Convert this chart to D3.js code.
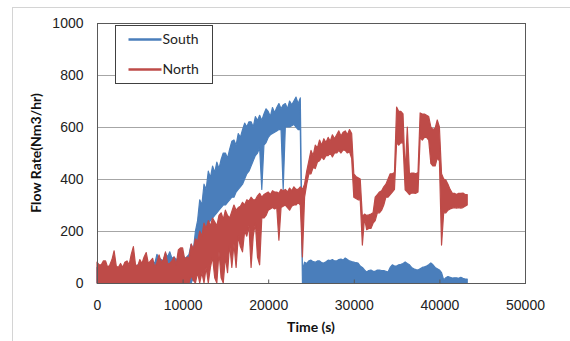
<!DOCTYPE html>
<html>
<head>
<meta charset="utf-8">
<script src="https://cdn.jsdelivr.net/npm/d3@7"></script>
<style>
  body { margin: 0; background: #fff; }
  svg { display: block; font-family: Lato, "Open Sans", sans-serif; }
  .tick-label { font-size: 14px; fill: #222; }
  .title { font-size: 14px; font-weight: bold; fill: #111; }
  .legend-text { font-size: 14px; fill: #222; }
</style>
</head>
<body>
<div id="chart"></div>
<script>
var sampleStep = 250;
var southHigh = [
  60, 55, 55, 50,   65, 60, 60, 55,   70, 60, 55, 60,   60, 65, 70, 60,
  75, 65, 60, 70,   70, 75, 80, 70,   65, 80, 85, 75,   110, 95, 90, 85,
  115, 100, 120, 95, 100, 90, 95, 85, 110, 95, 100, 110, 150, 125, 200, 240,
  320, 300, 380, 360, 430, 405, 450, 425, 465, 440, 475, 500, 500, 480, 515, 545,
  550, 530, 575, 560, 590, 615, 600, 620, 620, 600, 640, 625, 645, 625, 650, 670,
  660, 640, 675, 655, 675, 690, 670, 685, 690, 670, 700, 685, 700, 715, 690, 712,
  50, 80, 75, 85,   88, 82, 80, 85,   85, 78, 77, 82,   88, 86, 90, 85,
  85, 90, 92, 88,   96, 90, 85, 82,   80, 78, 77, 65,   60, 50, 42, 48,
  50, 45, 45, 50,   50, 48, 48, 45,   42, 60, 70, 65,   65, 70, 72, 75,
  81, 75, 70, 60,   55, 52, 50, 55,   60, 62, 65, 70,   77, 70, 60, 55,
  50, 40, 12, 20,   25, 22, 19, 20,   20, 18, 22, 18,   15, 15
];
var southLow = [
  0, 0, 0, 0,   0, 0, 0, 0,   0, 0, 0, 0,   0, 0, 0, 0,
  0, 0, 0, 0,   0, 0, 0, 0,   0, 0, 0, 0,   0, 0, 0, 0,
  0, 0, 0, 0,   0, 0, 0, 0,   0, 0, 0, 0,   0, 20, 60, 90,
  150, 180, 200, 210, 230, 240, 250, 260, 270, 280, 290, 300, 300, 310, 320, 330,
  330, 350, 360, 370, 380, 400, 420, 430, 450, 470, 490, 500, 520, 360, 530, 540,
  560, 570, 575, 580, 585, 590, 590, 360, 600, 600, 600, 605, 610, 600, 590, 590,
  0, 0, 0, 0,   0, 0, 0, 0,   0, 0, 0, 0,   0, 0, 0, 0,
  0, 0, 0, 0,   0, 0, 0, 0,   0, 0, 0, 0,   0, 0, 0, 0,
  0, 0, 0, 0,   0, 0, 0, 0,   0, 0, 0, 0,   0, 0, 0, 0,
  0, 0, 0, 0,   0, 0, 0, 0,   0, 0, 0, 0,   0, 0, 0, 0,
  0, 0, 0, 0,   0, 0, 0, 0,   0, 0, 0, 0,   0, 0
];
var northHigh = [
  80, 70, 70, 85,   85, 60, 70, 90,   124, 65, 60, 75,  60, 80, 85, 70,
  110, 140, 70, 65, 90, 75, 100, 117, 75, 85, 95, 60,   80, 108, 80, 90,
  120, 75, 75, 85,  100, 70, 127, 135, 135, 90, 100, 95, 150, 130, 170, 160,
  200, 180, 230, 210, 240, 220, 250, 235, 220, 260, 270, 245, 280, 260, 250, 275,
  300, 280, 290, 295, 310, 300, 320, 315, 330, 320, 320, 335, 345, 330, 340, 345,
  350, 340, 355, 350, 350, 345, 360, 355, 360, 350, 365, 355, 370, 360, 360, 370,
  360, 380, 430, 470, 510, 490, 530, 520, 550, 530, 555, 540, 560, 545, 570, 555,
  570, 585, 565, 580, 585, 570, 590, 575, 420, 410, 405, 400, 255, 265, 260, 262,
  265, 270, 330, 340, 350, 355, 370, 380, 400, 420, 420, 425, 677, 660, 660, 650,
  420, 600, 420, 423, 423, 420, 425, 654, 650, 650, 645, 640, 600, 590, 595, 627,
  600, 420, 400, 396, 380, 360, 346, 345, 340, 345, 345, 346, 340, 340
];
var northLow = [
  0, 0, 0, 0,   0, 0, 0, 0,   0, 0, 0, 0,   0, 0, 0, 0,
  0, 0, 0, 0,   0, 0, 0, 0,   0, 0, 0, 0,   0, 0, 0, 0,
  0, 0, 0, 0,   0, 0, 0, 0,   0, 0, 0, 0,   30, 10, 0, 40,
  0, 40, 0, 60,      0, 60, 100, 20,     0, 120, 20, 0,      100, 40, 150, 60,
  150, 60, 180, 140, 120, 200, 180, 220, 60, 180, 230, 100,  70, 250, 250, 260,
  280, 285, 290, 285, 290, 165, 290, 295, 300, 290, 280, 295, 300, 300, 310, 300,
  100, 330, 380, 420, 420, 445, 440, 465, 470, 485, 475, 490, 490, 500, 485, 500,
  500, 510, 500, 512, 510, 500, 505, 480, 330, 325, 320, 320, 146, 250, 205, 210,
  210, 230, 240, 270, 270, 280, 300, 330, 330, 340, 350, 360, 540, 530, 540, 538,
  358, 350, 340, 346, 346, 345, 350, 560, 550, 560, 560, 550, 460, 450, 450, 480,
  470, 146, 270, 270, 280, 285, 288, 290, 288, 290, 288, 290, 295, 300
];
var series = [
  { name: "South", high: southHigh, low: southLow, color: "#4a7ebb" },
  { name: "North", high: northHigh, low: northLow, color: "#be4b48" }
];
var xTicks = [0, 10000, 20000, 30000, 40000, 50000];
var yTicks = [0, 200, 400, 600, 800, 1000];

var width = 570, height = 341;
var plot = { left: 97, right: 525, top: 23, bottom: 283 };

var svg = d3.select("#chart").append("svg")
  .attr("width", width).attr("height", height);

// outer chart frame
svg.append("rect").attr("x", 12.5).attr("y", 7.5)
  .attr("width", 600).attr("height", 400)
  .attr("fill", "none").attr("stroke", "#d4d4d4");

var x = d3.scaleLinear().domain([0, 50000]).range([plot.left, plot.right]);
var y = d3.scaleLinear().domain([0, 1000]).range([plot.bottom, plot.top]);

// gridlines
svg.append("g").selectAll("line").data(yTicks.slice(1, -1)).join("line")
  .attr("x1", plot.left).attr("x2", plot.right)
  .attr("y1", d => Math.round(y(d)) + 0.5).attr("y2", d => Math.round(y(d)) + 0.5)
  .attr("stroke", "#a6a6a6");

// series: band between the min and max of each slot
var band = d3.area()
  .x(d => x(d.t))
  .y0(d => y(d.lo))
  .y1(d => y(d.hi));

function rows(s) {
  return s.high.map((h, i) => ({ t: i * sampleStep, hi: h, lo: s.low[i] }));
}

svg.append("g").selectAll("path").data(series).join("path")
  .attr("d", d => band(rows(d)))
  .attr("fill", d => d.color)
  .attr("stroke", d => d.color)
  .attr("stroke-width", 1.2)
  .attr("stroke-linejoin", "round");

// plot border
svg.append("rect")
  .attr("x", plot.left + 0.5).attr("y", plot.top + 0.5)
  .attr("width", plot.right - plot.left).attr("height", plot.bottom - plot.top)
  .attr("fill", "none").attr("stroke", "#595959");

// x axis
var xAxis = svg.append("g")
  .attr("transform", "translate(0," + (plot.bottom + 0.5) + ")")
  .call(d3.axisBottom(x).tickValues(xTicks).tickFormat(d3.format("d")).tickSizeInner(-4).tickSizeOuter(0));
xAxis.select(".domain").remove();
xAxis.selectAll(".tick line").attr("stroke", "#595959");
xAxis.selectAll(".tick text").attr("class", "tick-label").attr("dy", null).attr("y", 26)
  .attr("font-family", null).attr("font-size", null);

// y axis
var yAxis = svg.append("g")
  .attr("transform", "translate(" + (plot.left + 0.5) + ",0)")
  .call(d3.axisLeft(y).tickValues(yTicks).tickFormat(d3.format("d")).tickSize(0).tickPadding(14));
yAxis.select(".domain").remove();
yAxis.selectAll(".tick text").attr("class", "tick-label")
  .attr("font-family", null).attr("font-size", null);

// axis titles
svg.append("text").attr("class", "title")
  .attr("x", (plot.left + plot.right) / 2).attr("y", 332)
  .attr("text-anchor", "middle").text("Time (s)");
svg.append("text").attr("class", "title")
  .attr("transform", "translate(41," + (plot.top + plot.bottom) / 2 + ") rotate(-90)")
  .attr("text-anchor", "middle").text("Flow Rate(Nm3/hr)");

// legend
var legend = svg.append("g").attr("transform", "translate(115.5,25.5)");
legend.append("rect").attr("width", 97).attr("height", 58)
  .attr("fill", "#fff").attr("stroke", "#404040");
var item = legend.selectAll(".item").data(series).join("g")
  .attr("transform", (d, i) => "translate(0," + (14 + i * 30) + ")");
item.append("line").attr("x1", 13).attr("x2", 46)
  .attr("stroke", d => d.color).attr("stroke-width", 2.5);
item.append("text").attr("class", "legend-text")
  .attr("x", 47).attr("dy", "0.35em").text(d => d.name);
</script>
</body>
</html>
